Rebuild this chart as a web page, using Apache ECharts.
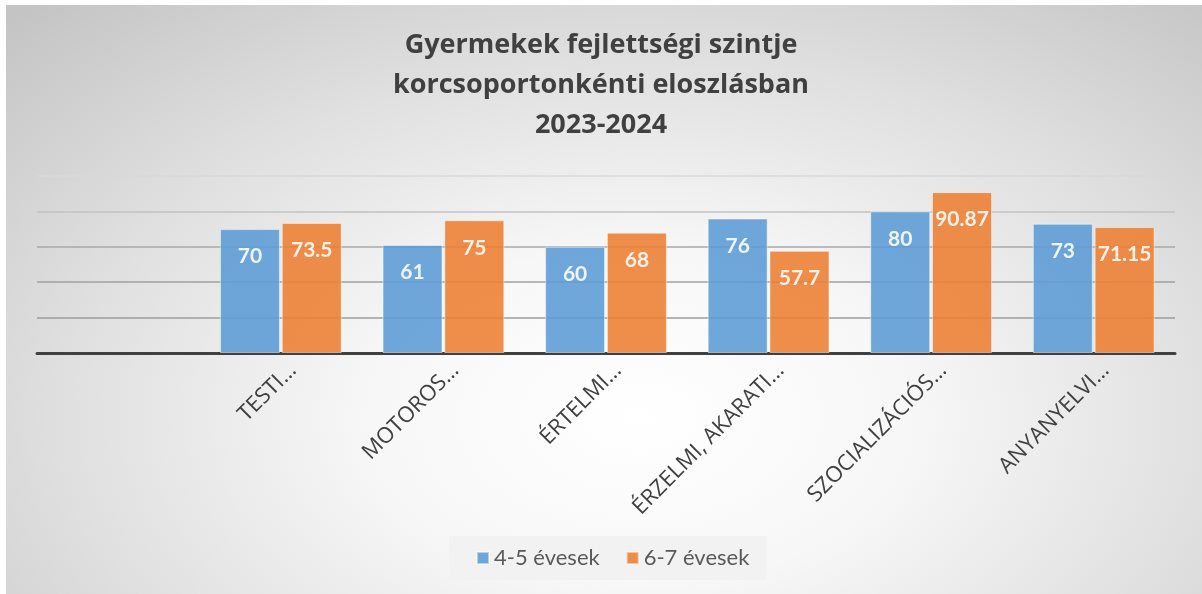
<!DOCTYPE html>
<html>
<head>
<meta charset="utf-8">
<script src="https://cdn.jsdelivr.net/npm/echarts@6/dist/echarts.min.js"></script>
<style>
html,body{margin:0;padding:0;background:#fff;width:1202px;height:594px;overflow:hidden;}
#bg{position:absolute;left:6px;top:5px;width:1196px;height:589px;
background:radial-gradient(ellipse 75% 95% at 53% 70%, #ffffff 0%, #f7f7f7 30%, #dfdfdf 65%, #c4c4c4 100%);}
#chart{position:absolute;left:0;top:0;width:1202px;height:594px;}
</style>
</head>
<body>
<div id="bg"></div>
<div id="chart"></div>
<script>
const titleText = "Gyermekek fejlettségi szintje\nkorcsoportonkénti eloszlásban\n2023-2024";
const categories = ["", "TESTI…", "MOTOROS…", "ÉRTELMI…", "ÉRZELMI, AKARATI…", "SZOCIALIZÁCIÓS…", "ANYANYELVI…"];
const seriesNames = ["4-5 évesek", "6-7 évesek"];
const values45 = [null, 70, 61, 60, 76, 80, 73];
const values67 = [null, 73.5, 75, 68, 57.7, 90.87, 71.15];

const chart = echarts.init(document.getElementById('chart'), null, {renderer: 'canvas'});
const labelStyle = {
  show: true, position: 'insideTop', distance: 17,
  color: '#ffffff', fontFamily: 'Lato', fontWeight: 'bold', fontSize: 21
};
chart.setOption({
  backgroundColor: 'transparent',
  animation: false,
  title: {
    text: titleText, left: 'center', top: 25, padding: 0,
    textStyle: {fontFamily: 'Open Sans', fontWeight: 'bold', fontSize: 27, lineHeight: 40, color: '#404040'}
  },
  legend: {
    data: seriesNames, bottom: 14, left: 449,
    backgroundColor: '#f2f2f2', padding: [11, 17, 11, 27],
    itemWidth: 12, itemHeight: 12, itemGap: 26,
    textStyle: {fontFamily: 'Lato', fontSize: 22, color: '#595959'},
    icon: 'rect'
  },
  grid: [
    {left: 37, right: 27, top: 176, bottom: 241, containLabel: false},
    {left: 49, right: 15, top: 176, bottom: 241, containLabel: false}
  ],
  xAxis: [
    {
      type: 'category', data: categories, gridIndex: 0,
      axisLine: {lineStyle: {color: '#404040', width: 3}},
      axisTick: {show: false},
      axisLabel: {show: false}
    },
    {
      type: 'category', data: categories, gridIndex: 1,
      axisLine: {show: false}, axisTick: {show: false}, splitLine: {show: false},
      axisLabel: {rotate: 45, interval: 0, margin: 14, fontFamily: 'Open Sans', fontSize: 22, color: '#404040'}
    }
  ],
  yAxis: [
    {
      type: 'value', min: 0, max: 100, interval: 20, gridIndex: 0,
      axisLabel: {show: false}, axisLine: {show: false}, axisTick: {show: false},
      splitLine: {lineStyle: {color: ['#999999', '#9c9c9c', '#a0a0a0', '#a8a8a8', '#c2c2c2', '#d8d8d8'], width: 1.5}}
    },
    {
      type: 'value', min: 0, max: 100, interval: 20, gridIndex: 1, show: false
    }
  ],
  series: [
    {name: seriesNames[0], type: 'bar', data: values45, barWidth: 60, barGap: '3%',
     itemStyle: {color: '#5b9bd5', opacity: 0.88, borderColor: 'rgba(255,255,255,0.55)', borderWidth: 1},
     label: labelStyle},
    {name: seriesNames[1], type: 'bar', data: values67, barWidth: 60,
     itemStyle: {color: '#ed7d31', opacity: 0.88, borderColor: 'rgba(255,255,255,0.55)', borderWidth: 1},
     label: labelStyle}
  ]
});
</script>
</body>
</html>
